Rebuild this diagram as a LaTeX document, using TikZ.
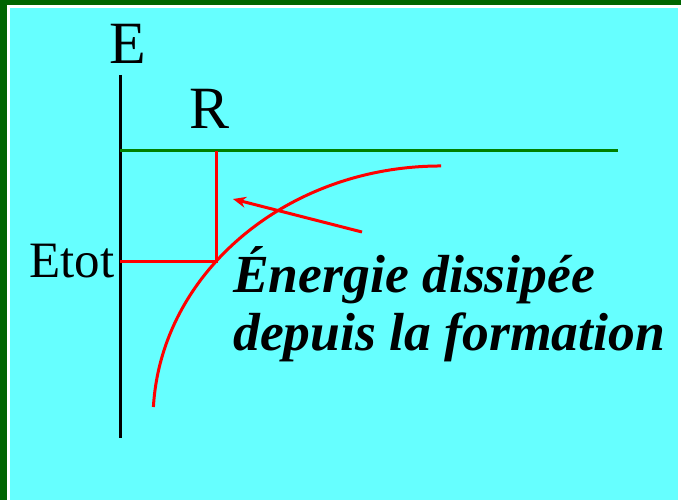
\documentclass[tikz,border=0pt]{standalone}
\usepackage{fontspec}
\setmainfont{Liberation Serif}
\usetikzlibrary{arrows.meta}
\definecolor{bggreen}{RGB}{0,100,0}
\definecolor{bgcyan}{RGB}{102,255,255}
\definecolor{axgreen}{RGB}{0,128,0}
\tikzset{
  lbl/.style={anchor=base west,inner sep=0pt,font=\fontsize{60}{60}\selectfont},
  small/.style={anchor=base west,inner sep=0pt,font=\fontsize{51}{51}\selectfont},
  note/.style={anchor=base west,inner sep=0pt,font=\fontsize{53.6}{53.6}\selectfont\bfseries\itshape},
  redline/.style={draw=red,line width=3pt},
}
\begin{document}
\begin{tikzpicture}[x=1pt,y=-1pt]
\useasboundingbox (0,0) rectangle (681,500);
\fill[bggreen] (0,0) rectangle (681,500);
\fill[white] (7,5) rectangle (681,500);
\fill[bgcyan] (10,8) rectangle (678,500);
% axes
\coordinate (atop) at (120,75);
\coordinate (abot) at (120,438);
\draw[line width=3pt,black] (atop) -- (abot);
\coordinate (gl) at (120,151);
\coordinate (gr) at (618,151);
\draw[line width=3pt,axgreen] (gl) -- (gr);
% labels
\node[lbl] (E) at (109,64) {E};
\node[lbl] (R) at (189,129) {R};
\node[small] (Etot) at (29,277) {Etot};
% red construction
\coordinate (rtop) at (216,151);
\coordinate (rint) at (216,262);
\coordinate (rleft) at (120,262);
\draw[redline] (rtop) -- (rint) -- (rleft);
% curve
\coordinate (cstart) at (153.4,407);
\draw[redline] (cstart) arc[start angle=182.93,end angle=270,x radius=288,y radius=254];
% arrow
\coordinate (astart) at (362,232);
\coordinate (aend) at (233,199);
\draw[redline,-{Stealth[length=13pt,width=11pt]}] (astart) -- (aend);
% text
\node[note] (t1) at (233,292) {Énergie dissipée};
\node[note] (t2) at (233,350) {depuis la formation};
\end{tikzpicture}
\end{document}
